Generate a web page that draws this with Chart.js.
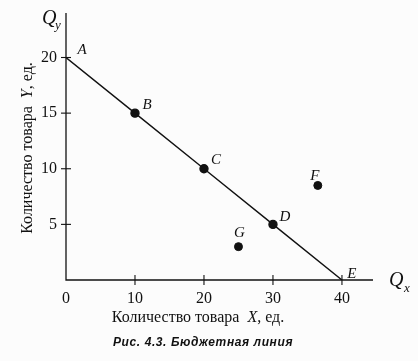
<!DOCTYPE html>
<html>
<head>
<meta charset="utf-8">
<script src="https://cdn.jsdelivr.net/npm/chart.js@4"></script>
<style>
  html, body { margin: 0; padding: 0; background: #fcfcfc; }
  #wrap { width: 418px; height: 361px; position: relative; }
</style>
</head>
<body>
<div id="wrap"><canvas id="budget"></canvas></div>
<script>
// === Data: budget line and bundles ===
const lineLabels = ['A', 'B', 'C', 'D', 'E'];
const lineX = [0, 10, 20, 30, 40];
const lineY = [20, 15, 10, 5, 0];
const otherLabels = ['F', 'G'];
const otherX = [36.5, 25];
const otherY = [8.5, 3];
const xTicks = [0, 10, 20, 30, 40];
const yTicks = [5, 10, 15, 20];

const serif = '"Liberation Serif", "DejaVu Serif", serif';

// label offsets next to points (text, not data)
const labelOffsets = {
    A: [12, -7], B: [8, -8], C: [8, -9], D: [8, -7], E: [6, -6],
    F: [-7, -9], G: [-3, -14]
};

// title with italic variable letter, drawn centred at (0,0) of current transform
function drawTitle(ctx, letter) {
    const parts = [['Количество товара  ', '16px '], [letter, 'italic 16px '], [', ед.', '16px ']];
    let total = 0;
    parts.forEach(p => { ctx.font = p[1] + serif; total += ctx.measureText(p[0]).width; });
    let cx = -total / 2;
    ctx.textAlign = 'left';
    parts.forEach(p => {
        ctx.font = p[1] + serif;
        ctx.fillText(p[0], cx, 0);
        cx += ctx.measureText(p[0]).width;
    });
}

const budgetPlot = {
    id: 'budgetPlot',
    afterDraw(chart) {
        const { ctx, scales: { x, y } } = chart;
        const x0 = x.getPixelForValue(0), y0 = y.getPixelForValue(0);
        const xEnd = x.getPixelForValue(x.max), yEnd = y.getPixelForValue(y.max);
        ctx.save();
        ctx.strokeStyle = '#111';
        ctx.lineWidth = 1.3;
        // axes
        ctx.beginPath();
        ctx.moveTo(x0, yEnd); ctx.lineTo(x0, y0); ctx.lineTo(xEnd, y0);
        ctx.stroke();
        // tick marks crossing the axes
        ctx.lineWidth = 1.1;
        xTicks.filter(v => v > 0).forEach(v => {
            const px = x.getPixelForValue(v);
            ctx.beginPath(); ctx.moveTo(px, y0 - 5); ctx.lineTo(px, y0 + 5); ctx.stroke();
        });
        yTicks.forEach(v => {
            const py = y.getPixelForValue(v);
            ctx.beginPath(); ctx.moveTo(x0 - 5, py); ctx.lineTo(x0 + 5, py); ctx.stroke();
        });
        // point labels
        ctx.fillStyle = '#111';
        ctx.font = 'italic 15px ' + serif;
        ctx.textAlign = 'center';
        ctx.textBaseline = 'middle';
        lineLabels.forEach((l, i) => {
            const o = labelOffsets[l];
            ctx.fillText(l, x.getPixelForValue(lineX[i]) + o[0] + 4, y.getPixelForValue(lineY[i]) + o[1]);
        });
        otherLabels.forEach((l, i) => {
            const o = labelOffsets[l];
            ctx.fillText(l, x.getPixelForValue(otherX[i]) + o[0] + 4, y.getPixelForValue(otherY[i]) + o[1]);
        });
        // axis names Q_y and Q_x
        ctx.textAlign = 'left';
        ctx.font = 'italic 20px ' + serif;
        ctx.fillText('Q', x0 - 24, yEnd + 6);
        ctx.fillText('Q', xEnd + 16, y0 + 1);
        ctx.font = 'italic 13px ' + serif;
        ctx.fillText('y', x0 - 11, yEnd + 13);
        ctx.fillText('x', xEnd + 31, y0 + 9);
        // axis titles
        ctx.save();
        ctx.translate(198, 318);
        drawTitle(ctx, 'X');
        ctx.restore();
        ctx.save();
        ctx.translate(28, 148);
        ctx.rotate(-Math.PI / 2);
        drawTitle(ctx, 'Y');
        ctx.restore();
        // caption
        ctx.textAlign = 'center';
        ctx.font = 'bold italic 12px "Liberation Sans", Arial, sans-serif';
        ctx.letterSpacing = '0.6px';
        ctx.fillText('Рис. 4.3. Бюджетная линия', 203, 343);
        ctx.restore();
    }
};

new Chart(document.getElementById('budget'), {
    type: 'scatter',
    data: {
        datasets: [
            {
                data: lineX.map((v, i) => ({ x: v, y: lineY[i] })),
                showLine: true,
                borderColor: '#111',
                borderWidth: 1.4,
                backgroundColor: '#111',
                pointRadius: lineLabels.map(l => (l === 'A' || l === 'E') ? 0 : 4),
                tension: 0
            },
            {
                data: otherX.map((v, i) => ({ x: v, y: otherY[i] })),
                backgroundColor: '#111',
                borderColor: '#111',
                pointRadius: 4
            }
        ]
    },
    plugins: [budgetPlot],
    options: {
        responsive: true,
        maintainAspectRatio: false,
        animation: false,
        layout: { padding: { left: 0, right: 45, top: 13, bottom: 0 } },
        plugins: { legend: { display: false }, tooltip: { enabled: false } },
        scales: {
            x: {
                type: 'linear', min: 0, max: 44.5,
                grid: { display: false, drawTicks: false },
                border: { display: false },
                afterBuildTicks: s => { s.ticks = xTicks.map(v => ({ value: v })); },
                afterFit: s => { s.height = 81; s.paddingLeft = 0; s.paddingRight = 0; },
                ticks: { color: '#111', padding: 9, font: { family: serif, size: 16 } }
            },
            y: {
                type: 'linear', min: 0, max: 24,
                grid: { display: false, drawTicks: false },
                border: { display: false },
                afterBuildTicks: s => { s.ticks = yTicks.map(v => ({ value: v })); },
                afterFit: s => { s.width = 66; s.paddingTop = 0; s.paddingBottom = 0; },
                ticks: { color: '#111', padding: 9, font: { family: serif, size: 16 } }
            }
        }
    }
});
</script>
</body>
</html>
